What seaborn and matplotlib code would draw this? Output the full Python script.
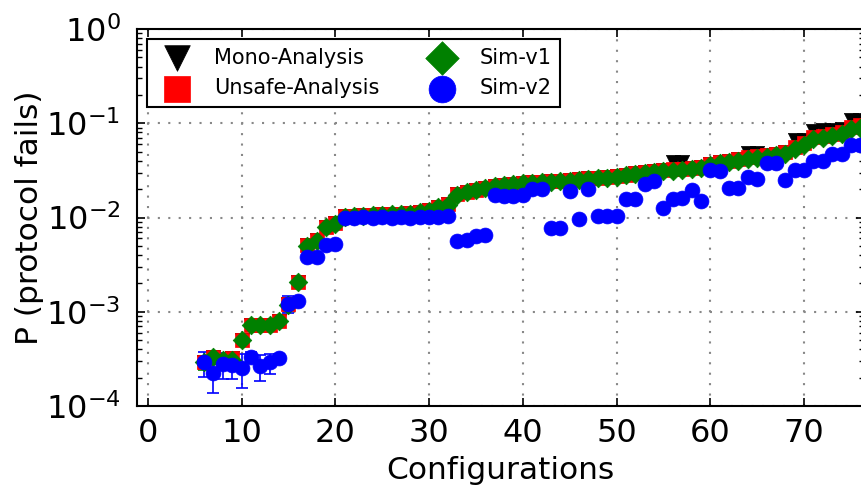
import matplotlib
matplotlib.use("Agg")
import matplotlib.pyplot as plt
import seaborn as sns

# Configuration index on the x axis
configs = list(range(6, 77))

# Failure probabilities per configuration
sim_v1 = [
    2.9e-4, 3.3e-4, 3.05e-4, 3.1e-4, 5.0e-4, 7.2e-4, 7.2e-4, 7.2e-4, 7.9e-4, 1.18e-3,
    2.05e-3, 5.0e-3, 5.7e-3, 7.9e-3, 8.6e-3, 1.02e-2, 1.04e-2, 1.05e-2, 1.06e-2, 1.07e-2,
    1.08e-2, 1.09e-2, 1.10e-2, 1.13e-2, 1.18e-2, 1.28e-2, 1.36e-2, 1.75e-2, 1.85e-2, 1.95e-2,
    2.05e-2, 2.15e-2, 2.2e-2, 2.25e-2, 2.3e-2, 2.33e-2, 2.36e-2, 2.39e-2, 2.42e-2, 2.46e-2,
    2.5e-2, 2.55e-2, 2.6e-2, 2.65e-2, 2.7e-2, 2.8e-2, 2.88e-2, 2.96e-2, 3.05e-2, 3.1e-2,
    3.15e-2, 3.2e-2, 3.25e-2, 3.35e-2, 3.6e-2, 3.75e-2, 3.9e-2, 4.0e-2, 4.15e-2, 4.25e-2,
    4.4e-2, 4.55e-2, 4.75e-2, 5.3e-2, 5.9e-2, 6.8e-2, 7.0e-2, 7.3e-2, 7.7e-2, 8.6e-2,
    9.0e-2,
]
sim_v1_err = [0.5e-4, 0.5e-4, 0.4e-4, 0.4e-4] + [0.0] * 67

unsafe = [
    2.95e-4, 3.3e-4, 3.1e-4, 3.2e-4, 5.0e-4, 7.3e-4, 7.3e-4, 7.3e-4, 8.0e-4, 1.2e-3,
    2.05e-3, 5.1e-3, 5.8e-3, 8.0e-3, 8.8e-3, 1.03e-2, 1.05e-2, 1.06e-2, 1.07e-2, 1.08e-2,
    1.09e-2, 1.10e-2, 1.11e-2, 1.14e-2, 1.2e-2, 1.3e-2, 1.4e-2, 1.78e-2, 1.88e-2, 1.98e-2,
    2.08e-2, 2.18e-2, 2.23e-2, 2.28e-2, 2.33e-2, 2.36e-2, 2.39e-2, 2.42e-2, 2.45e-2, 2.5e-2,
    2.55e-2, 2.6e-2, 2.65e-2, 2.7e-2, 2.75e-2, 2.85e-2, 2.93e-2, 3.02e-2, 3.1e-2, 3.18e-2,
    3.25e-2, 3.3e-2, 3.35e-2, 3.45e-2, 3.7e-2, 3.85e-2, 4.0e-2, 4.15e-2, 4.35e-2, 4.45e-2,
    4.6e-2, 4.75e-2, 5.0e-2, 5.6e-2, 6.2e-2, 7.2e-2, 7.4e-2, 7.6e-2, 8.0e-2, 9.2e-2,
    9.6e-2,
]

mono = [
    2.95e-4, 3.3e-4, 3.1e-4, 3.2e-4, 5.0e-4, 7.3e-4, 7.3e-4, 7.3e-4, 8.0e-4, 1.2e-3,
    2.05e-3, 5.1e-3, 5.8e-3, 8.0e-3, 8.8e-3, 1.03e-2, 1.05e-2, 1.06e-2, 1.07e-2, 1.08e-2,
    1.09e-2, 1.10e-2, 1.11e-2, 1.14e-2, 1.2e-2, 1.3e-2, 1.4e-2, 1.78e-2, 1.88e-2, 1.98e-2,
    2.08e-2, 2.18e-2, 2.23e-2, 2.28e-2, 2.33e-2, 2.36e-2, 2.39e-2, 2.42e-2, 2.45e-2, 2.5e-2,
    2.55e-2, 2.6e-2, 2.65e-2, 2.7e-2, 2.75e-2, 2.85e-2, 2.93e-2, 3.02e-2, 3.1e-2, 3.18e-2,
    3.85e-2, 3.85e-2, 3.35e-2, 3.45e-2, 3.7e-2, 3.85e-2, 4.0e-2, 4.15e-2, 4.8e-2, 4.8e-2,
    4.6e-2, 4.75e-2, 5.0e-2, 6.6e-2, 6.6e-2, 8.3e-2, 8.4e-2, 8.5e-2, 8.6e-2, 1.07e-1,
    1.07e-1,
]

sim_v2 = [
    2.9e-4, 2.26e-4, 2.77e-4, 2.75e-4, 2.55e-4, 3.3e-4, 2.65e-4, 2.9e-4, 3.25e-4, 1.22e-3,
    1.3e-3, 3.78e-3, 3.8e-3, 5.15e-3, 5.25e-3, 0.99e-2, 1.0e-2, 1.01e-2, 1.0e-2, 1.01e-2,
    1.0e-2, 1.01e-2, 1.0e-2, 1.01e-2, 1.02e-2, 1.02e-2, 1.04e-2, 5.7e-3, 5.75e-3, 6.3e-3,
    6.5e-3, 1.75e-2, 1.7e-2, 1.7e-2, 1.72e-2, 2.0e-2, 2.0e-2, 7.7e-3, 7.7e-3, 1.91e-2,
    9.7e-3, 2.0e-2, 1.03e-2, 1.03e-2, 1.03e-2, 1.56e-2, 1.56e-2, 2.29e-2, 2.45e-2, 1.27e-2,
    1.59e-2, 1.61e-2, 1.95e-2, 1.49e-2, 3.18e-2, 3.12e-2, 2.06e-2, 2.06e-2, 2.68e-2, 2.58e-2,
    3.79e-2, 3.79e-2, 2.48e-2, 3.22e-2, 3.22e-2, 3.98e-2, 3.98e-2, 4.77e-2, 4.77e-2, 5.9e-2,
    5.9e-2,
]
sim_v2_err = [0.85e-4, 0.9e-4, 0.85e-4, 0.8e-4, 1.0e-4, 0.4e-4, 0.8e-4, 0.7e-4, 0.3e-4,
              0.25e-3, 0.1e-3] + [0.0] * 60

sns.set_style("ticks")
plt.rcParams["font.family"] = ["DejaVu Sans"]
plt.rcParams["mathtext.fontset"] = "dejavusans"
for key in ("text.color", "axes.labelcolor", "xtick.color", "ytick.color", "axes.edgecolor"):
    plt.rcParams[key] = "black"

fig = plt.figure(figsize=(8.62, 4.93), dpi=100)
ax = fig.add_axes([137 / 862, 87 / 493, (864 - 137) / 862, (406 - 29) / 493])

# error bars sit under the markers
ax.errorbar(configs, sim_v1, yerr=sim_v1_err, fmt="none", ecolor="green",
            elinewidth=1.2, capsize=4, capthick=1.2, zorder=2)
ax.errorbar(configs, sim_v2, yerr=sim_v2_err, fmt="none", ecolor="blue",
            elinewidth=1.2, capsize=4, capthick=1.2, zorder=2)

sns.scatterplot(x=configs, y=mono, marker="v", color="black", edgecolor="black",
                linewidth=0.5, s=105, label="Mono-Analysis", ax=ax, zorder=3)
sns.scatterplot(x=configs, y=unsafe, marker="s", color="red", edgecolor="red",
                linewidth=0.5, s=105, label="Unsafe-Analysis", ax=ax, zorder=3)
sns.scatterplot(x=configs, y=sim_v1, marker="D", color="green", edgecolor="green",
                linewidth=0.5, s=90, label="Sim-v1", ax=ax, zorder=3)
sns.scatterplot(x=configs, y=sim_v2, marker="o", color="blue", edgecolor="blue",
                linewidth=0.5, s=115, label="Sim-v2", ax=ax, zorder=3)

ax.set_yscale("log")
ax.set_ylim(1e-4, 1)
ax.set_xlim(-1.15, 76.4)
ax.set_xticks(range(0, 80, 10))
ax.set_yticks([1e-4, 1e-3, 1e-2, 1e-1, 1])

ax.grid(True, which="major", color="#888888", linestyle=(0, (1, 4)), linewidth=1.5)
ax.set_axisbelow(True)

for side in ax.spines.values():
    side.set_linewidth(1.5)
    side.set_color("black")

ax.tick_params(which="both", direction="in", top=True, right=True, color="black")
ax.tick_params(which="major", length=6, width=1.2, labelsize=23)
ax.tick_params(which="minor", length=3.5, width=1.0)
ax.tick_params(axis="y", which="major", pad=12)
ax.tick_params(axis="x", which="major", pad=9)

ax.set_xlabel("Configurations", fontsize=22.5, labelpad=5)
ax.set_ylabel("P (protocol fails)", fontsize=22.5, labelpad=1)

leg = ax.legend(loc="upper left", ncol=2, markerscale=1.8, fontsize=15,
                frameon=True, fancybox=False, edgecolor="black", framealpha=1,
                borderaxespad=0.5)
leg.get_frame().set_linewidth(1.5)

fig.savefig("out.png", dpi=100)
